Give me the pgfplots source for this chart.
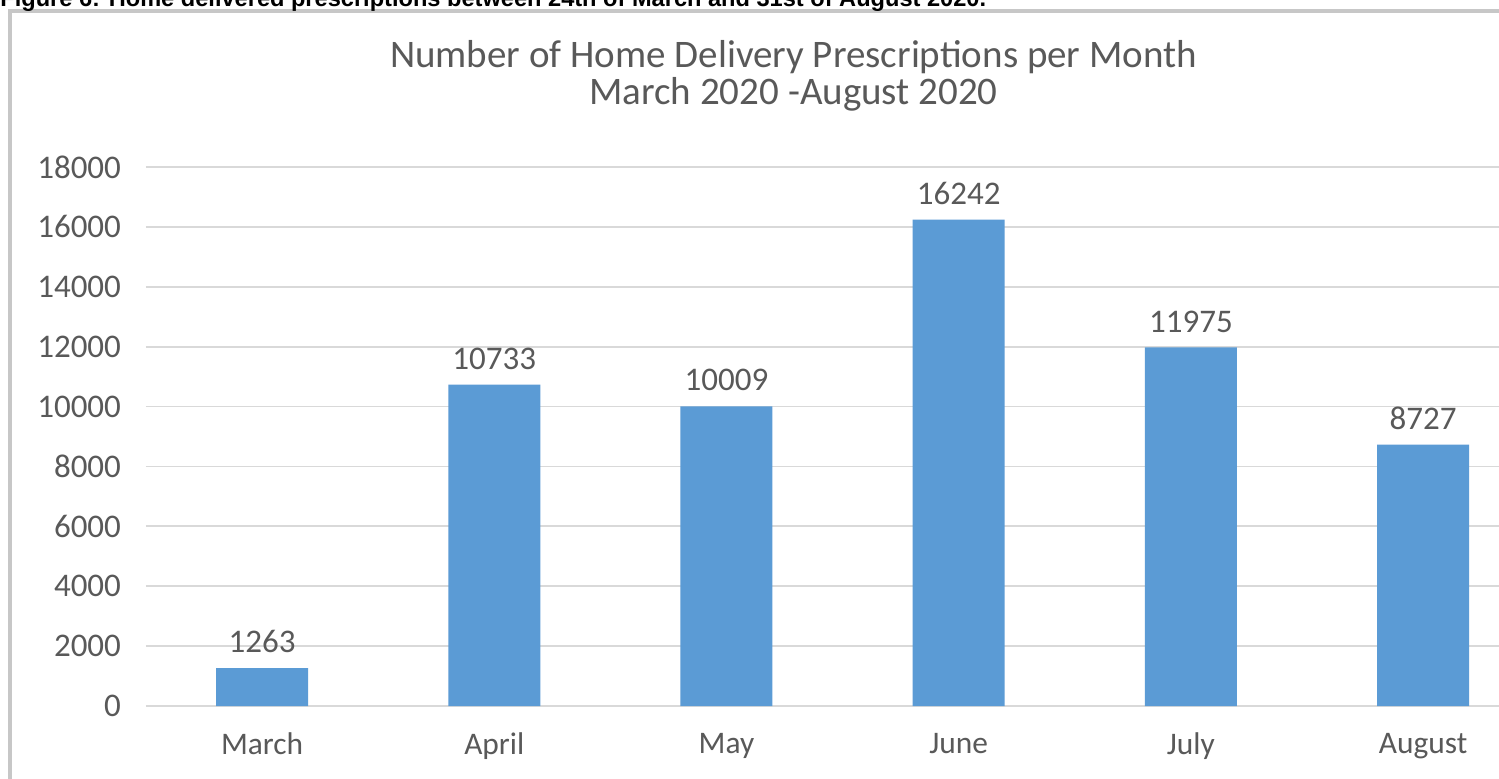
\documentclass[border=0pt]{standalone}
\usepackage{pgfplots}
\pgfplotsset{compat=1.18}
\usepackage{fontspec}
\setmainfont{Carlito}
\newfontfamily\arialf{Liberation Sans}
\definecolor{barblue}{HTML}{5B9BD5}
\definecolor{gridgray}{HTML}{D9D9D9}
\definecolor{txtgray}{HTML}{595959}
\begin{document}
\begin{tikzpicture}[x=1pt,y=1pt]
\path[use as bounding box] (0,0) rectangle (749.5,389);
\fill[white] (0,0) rectangle (749.5,389);
\draw[black!22, line width=1.6pt] (5,-5) rectangle (760,383.5);
\node[anchor=base west, inner sep=0pt, font=\arialf\bfseries\fontsize{11.8}{13}\selectfont] at (0,385.5) {Figure 6: Home delivered prescriptions between 24th of March and 31st of August 2020.};
\node[text=txtgray, font=\fontsize{19.5}{21}\selectfont, anchor=base, inner sep=0pt] at (396.75,355) {Number of Home Delivery Prescriptions per Month};
\node[text=txtgray, font=\fontsize{19.5}{21}\selectfont, anchor=base, inner sep=0pt] at (396.75,336.5) {March 2020 -August 2020};
\begin{axis}[
  at={(73pt,36pt)}, anchor=south west,
  scale only axis, width=676.5pt, height=269.5pt,
  xmin=-0.5, xmax=5.327, ymin=0, ymax=18000,
  ytick={0,2000,...,18000},
  xtick={0,1,2,3,4,5},
  xticklabels={March,April,May,June,July,August},
  ymajorgrids, grid style={draw=gridgray, line width=0.9pt},
  axis line style={draw=none},
  major tick length=0pt,
  yticklabel style={font=\fontsize{16.5}{19}\selectfont, text=txtgray, xshift=-9pt},
  xticklabel style={font=\fontsize{15.7}{18}\selectfont, text=txtgray, yshift=-10pt},
  scaled y ticks=false,
  /pgf/number format/.cd, 1000 sep={}, assume math mode=true,
  /pgfplots/.cd,
  ybar, bar width=46pt,
  nodes near coords,
  nodes near coords style={font=\fontsize{16.5}{19}\selectfont, text=txtgray, yshift=4pt, /pgf/number format/1000 sep={}},
  clip=false,
]
\addplot[fill=barblue, draw=none] coordinates {(0,1263) (1,10733) (2,10009) (3,16242) (4,11975) (5,8727)};
\end{axis}
\end{tikzpicture}
\end{document}
